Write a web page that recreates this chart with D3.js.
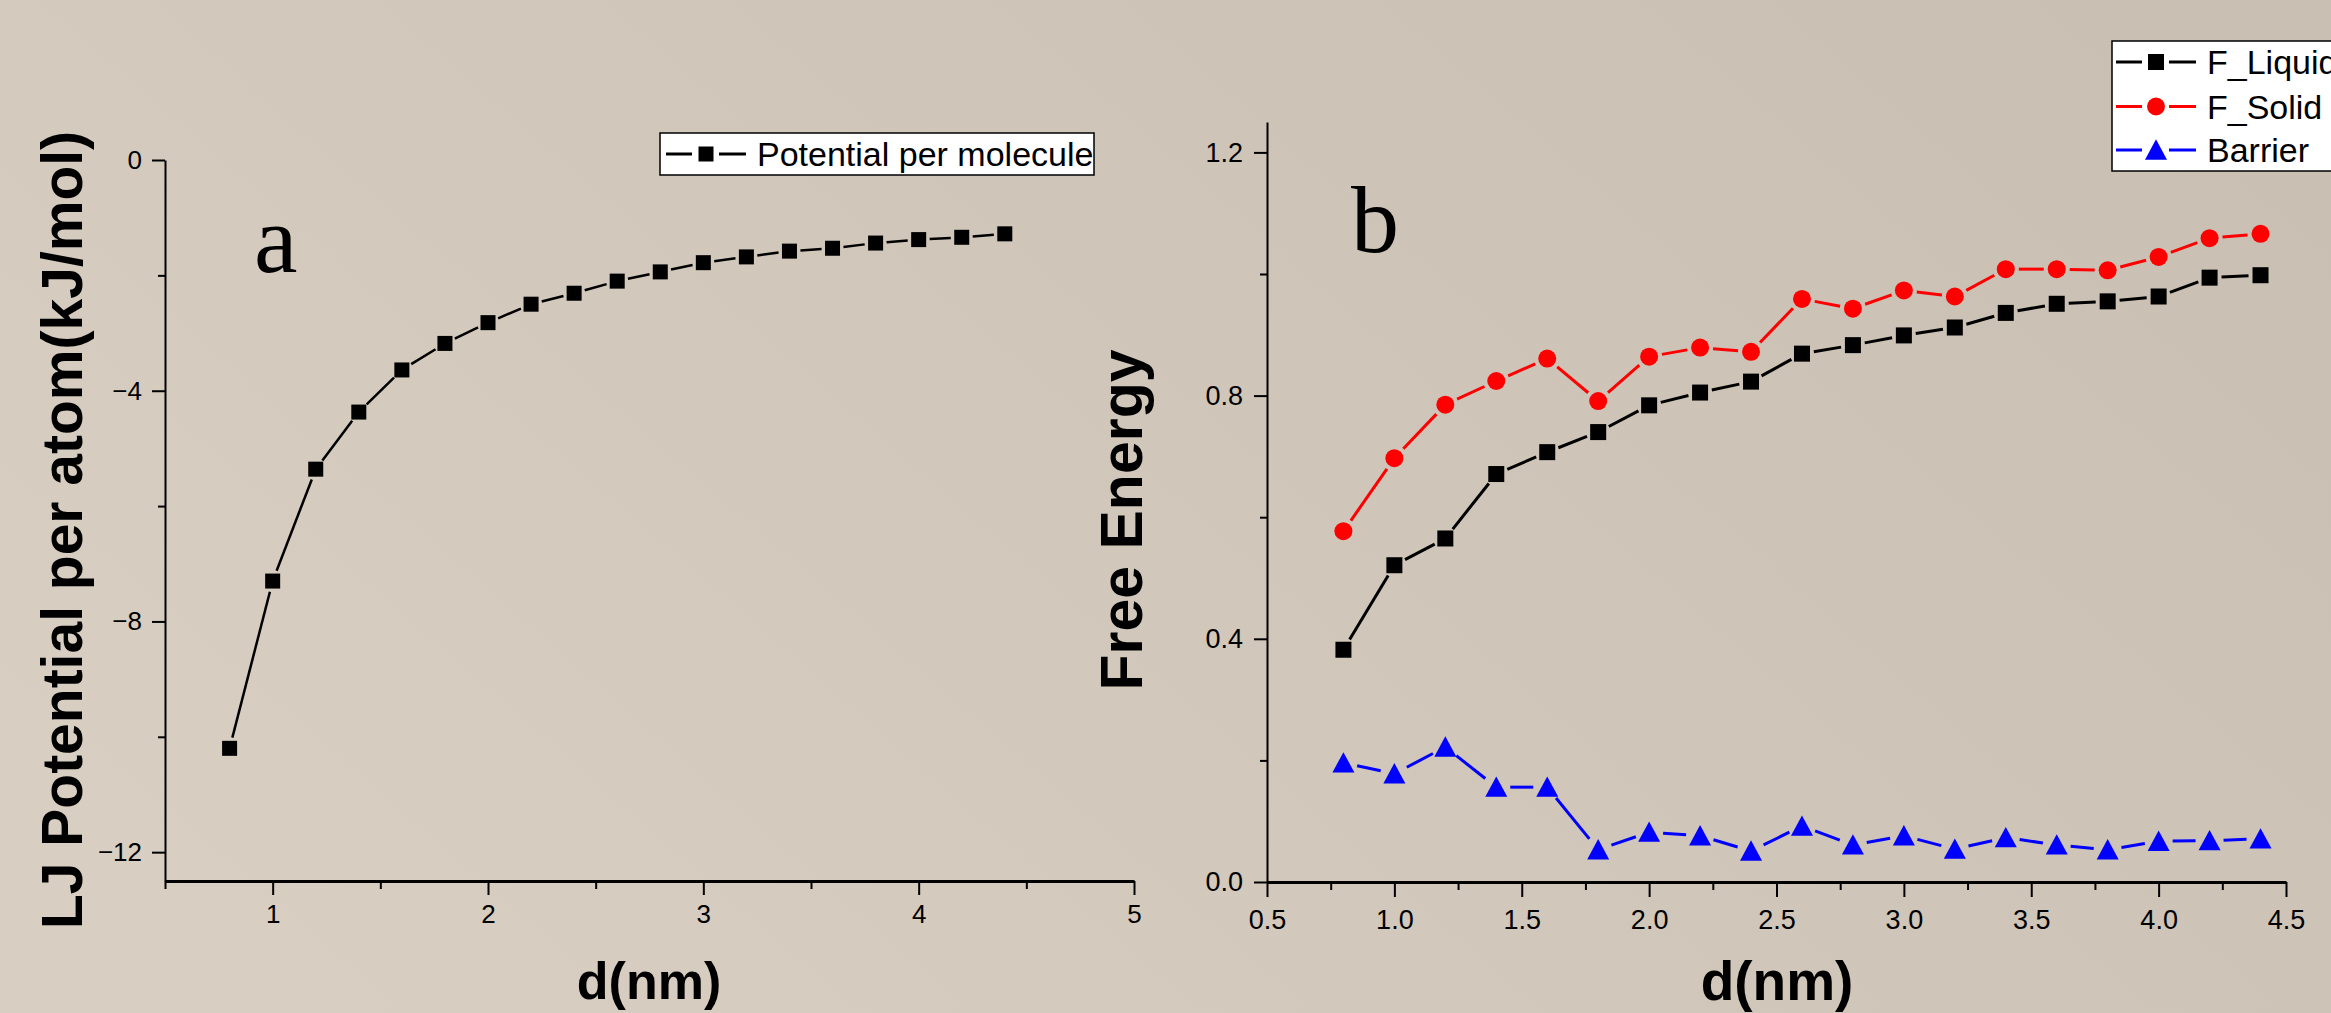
<!DOCTYPE html>
<html>
<head>
<meta charset="utf-8">
<script src="https://cdn.jsdelivr.net/npm/d3@7"></script>
<style>
  body { margin: 0; overflow: hidden; }
  svg { display: block; }
  text { font-family: "Liberation Sans", Arial, sans-serif; fill: #000; }
</style>
</head>
<body>
<div id="chart"></div>
<script>
// panel a: LJ potential per atom vs distance
const distA = [0.8, 1.0, 1.2, 1.4, 1.6, 1.8, 2.0, 2.2, 2.4, 2.6, 2.8, 3.0, 3.2, 3.4, 3.6, 3.8, 4.0, 4.2, 4.4];
const ljPotential = [-10.2, -7.30, -5.36, -4.37, -3.64, -3.18, -2.82, -2.50, -2.31, -2.10, -1.94, -1.78, -1.68, -1.58, -1.53, -1.44, -1.38, -1.34, -1.28];

// panel b: free energies vs distance
const distB = [0.8, 1.0, 1.2, 1.4, 1.6, 1.8, 2.0, 2.2, 2.4, 2.6, 2.8, 3.0, 3.2, 3.4, 3.6, 3.8, 4.0, 4.2, 4.4];
const fLiquid = [0.382, 0.521, 0.565, 0.671, 0.707, 0.740, 0.784, 0.805, 0.823, 0.869, 0.883, 0.899, 0.912, 0.936, 0.951, 0.955, 0.963, 0.994, 0.998];
const fSolid = [0.577, 0.697, 0.785, 0.824, 0.861, 0.791, 0.864, 0.879, 0.872, 0.959, 0.943, 0.973, 0.963, 1.008, 1.008, 1.006, 1.028, 1.059, 1.066];
const barrier = [0.196, 0.178, 0.222, 0.156, 0.156, 0.053, 0.082, 0.076, 0.051, 0.092, 0.061, 0.076, 0.054, 0.073, 0.061, 0.053, 0.067, 0.068, 0.071];

// ticks
const xTicksA = [1, 2, 3, 4, 5];
const xMinorA = [0.5, 1.5, 2.5, 3.5, 4.5];
const yTicksA = [0, -4, -8, -12];
const yMinorA = [-2, -6, -10];
const xTicksB = [0.5, 1.0, 1.5, 2.0, 2.5, 3.0, 3.5, 4.0, 4.5];
const xMinorB = [0.75, 1.25, 1.75, 2.25, 2.75, 3.25, 3.75, 4.25];
const yTicksB = [0, 0.4, 0.8, 1.2];
const yMinorB = [0.2, 0.6, 1.0];

const W = 2331, H = 1013;

const svg = d3.select("#chart").append("svg")
  .attr("width", W)
  .attr("height", H);

// background
const grad = svg.append("defs").append("linearGradient")
  .attr("id", "bg")
  .attr("x1", 0).attr("y1", 0.7)
  .attr("x2", 1).attr("y2", 0.2);
grad.append("stop").attr("offset", 0).attr("stop-color", "#d8cec1");
grad.append("stop").attr("offset", 0.5).attr("stop-color", "#d0c6b9");
grad.append("stop").attr("offset", 1).attr("stop-color", "#c9bfb3");
svg.append("rect").attr("width", W).attr("height", H).attr("fill", "url(#bg)");

// helpers
function gapLines(g, pts, gap, color, width) {
  g.selectAll(null)
    .data(d3.pairs(pts))
    .join("line")
    .each(function ([a, b]) {
      const len = Math.hypot(b[0] - a[0], b[1] - a[1]);
      const ux = (b[0] - a[0]) / len, uy = (b[1] - a[1]) / len;
      const s = Math.min(gap, len / 2);
      d3.select(this)
        .attr("x1", a[0] + ux * s).attr("y1", a[1] + uy * s)
        .attr("x2", b[0] - ux * s).attr("y2", b[1] - uy * s);
    })
    .attr("stroke", color)
    .attr("stroke-width", width);
}

function marker(sel, shape, size, color) {
  if (shape === "square") {
    sel.append("rect")
      .attr("x", -size / 2).attr("y", -size / 2)
      .attr("width", size).attr("height", size)
      .attr("fill", color);
  } else if (shape === "circle") {
    sel.append("circle").attr("r", size / 2).attr("fill", color);
  } else {
    const w = size, h = size * 0.88;
    sel.append("path")
      .attr("d", `M0,${-h / 2 - 1}L${w / 2},${h / 2}L${-w / 2},${h / 2}Z`)
      .attr("fill", color);
  }
}

function drawSeries(g, x, y, xs, ys, opt) {
  const pts = xs.map((d, i) => [x(d), y(ys[i])]);
  gapLines(g, pts, opt.gap, opt.color, opt.width);
  g.selectAll(null)
    .data(pts)
    .join("g")
    .attr("transform", d => `translate(${d[0]},${d[1]})`)
    .each(function () { marker(d3.select(this), opt.shape, opt.size, opt.color); });
}

function styleAxis(ax, width, fontSize) {
  ax.select(".domain").attr("stroke", "#000").attr("stroke-width", width);
  ax.selectAll(".tick line").attr("stroke", "#000").attr("stroke-width", 2);
  ax.selectAll(".tick text")
    .attr("fill", "#000")
    .style("font-size", fontSize + "px")
    .style("font-family", "'Liberation Sans', Arial, sans-serif");
}

function legendRow(g, x0, cy, shape, size, color, label) {
  g.append("line").attr("x1", x0).attr("x2", x0 + 26).attr("y1", cy).attr("y2", cy)
    .attr("stroke", color).attr("stroke-width", 3);
  g.append("line").attr("x1", x0 + 53).attr("x2", x0 + 80).attr("y1", cy).attr("y2", cy)
    .attr("stroke", color).attr("stroke-width", 3);
  const m = g.append("g").attr("transform", `translate(${x0 + 40},${cy})`);
  marker(m, shape, size, color);
  g.append("text")
    .attr("x", x0 + 91)
    .attr("y", cy + 12)
    .style("font-size", "34px")
    .text(label);
}

drawPanelA(svg);
drawPanelB(svg);

function drawPanelA(svg) {
  const x = d3.scaleLinear().domain([0.5, 5]).range([165, 1134]);
  const y = d3.scaleLinear().domain([-12.5, 0]).range([881, 160]);
  const g = svg.append("g");

  // minor ticks
  g.append("g").attr("transform", "translate(0,881)")
    .call(d3.axisBottom(x).tickValues(xMinorA).tickSize(8).tickFormat("").tickSizeOuter(0))
    .call(ax => { ax.select(".domain").remove(); ax.selectAll("line").attr("stroke", "#000").attr("stroke-width", 2); });
  g.append("g").attr("transform", "translate(165,0)")
    .call(d3.axisLeft(y).tickValues(yMinorA).tickSize(7).tickFormat("").tickSizeOuter(0))
    .call(ax => { ax.select(".domain").remove(); ax.selectAll("line").attr("stroke", "#000").attr("stroke-width", 2); });

  // major axes
  g.append("g").attr("transform", "translate(0,881)")
    .call(d3.axisBottom(x).tickValues(xTicksA).tickSize(14).tickPadding(10).tickSizeOuter(0).tickFormat(d3.format("d")))
    .call(ax => styleAxis(ax, 3, 26));
  g.append("g").attr("transform", "translate(165,0)")
    .call(d3.axisLeft(y).tickValues(yTicksA).tickSize(13).tickPadding(10).tickSizeOuter(0).tickFormat(d3.format("d")))
    .call(ax => styleAxis(ax, 2, 26));

  drawSeries(g, x, y, distA, ljPotential, { color: "#000", width: 2.5, shape: "square", size: 15, gap: 11 });

  // axis titles
  g.append("text")
    .attr("transform", "translate(82,530) rotate(-90)")
    .attr("text-anchor", "middle")
    .style("font-size", "57px").style("font-weight", "bold")
    .text("LJ Potential per atom(kJ/mol)");
  g.append("text")
    .attr("x", 649).attr("y", 999)
    .attr("text-anchor", "middle")
    .style("font-size", "52px").style("font-weight", "bold")
    .text("d(nm)");

  // panel label
  g.append("text")
    .attr("x", 254).attr("y", 272)
    .style("font-family", "'Liberation Serif', 'Times New Roman', serif")
    .style("font-size", "98px")
    .text("a");

  // legend
  const lg = g.append("g");
  lg.append("rect").attr("x", 660).attr("y", 133).attr("width", 434).attr("height", 42)
    .attr("fill", "#fff").attr("stroke", "#000").attr("stroke-width", 1.5);
  legendRow(lg, 666, 154, "square", 15, "#000", "Potential per molecule");
}

function drawPanelB(svg) {
  const x = d3.scaleLinear().domain([0.5, 4.5]).range([1267, 2286]);
  const y = d3.scaleLinear().domain([0, 1.25]).range([882, 122]);
  const g = svg.append("g");

  g.append("g").attr("transform", "translate(0,882)")
    .call(d3.axisBottom(x).tickValues(xMinorB).tickSize(8).tickFormat("").tickSizeOuter(0))
    .call(ax => { ax.select(".domain").remove(); ax.selectAll("line").attr("stroke", "#000").attr("stroke-width", 2); });
  g.append("g").attr("transform", "translate(1267,0)")
    .call(d3.axisLeft(y).tickValues(yMinorB).tickSize(7).tickFormat("").tickSizeOuter(0))
    .call(ax => { ax.select(".domain").remove(); ax.selectAll("line").attr("stroke", "#000").attr("stroke-width", 2); });

  g.append("g").attr("transform", "translate(0,882)")
    .call(d3.axisBottom(x).tickValues(xTicksB).tickSize(15).tickPadding(13).tickSizeOuter(0).tickFormat(d3.format(".1f")))
    .call(ax => styleAxis(ax, 3, 27));
  g.append("g").attr("transform", "translate(1267,0)")
    .call(d3.axisLeft(y).tickValues(yTicksB).tickSize(13).tickPadding(11).tickSizeOuter(0).tickFormat(d3.format(".1f")))
    .call(ax => styleAxis(ax, 2, 27));

  drawSeries(g, x, y, distB, fLiquid, { color: "#000", width: 3, shape: "square", size: 16, gap: 12 });
  drawSeries(g, x, y, distB, fSolid, { color: "#ff0000", width: 3, shape: "circle", size: 18, gap: 13 });
  drawSeries(g, x, y, distB, barrier, { color: "#0000ff", width: 3, shape: "triangle", size: 22, gap: 14 });

  g.append("text")
    .attr("transform", "translate(1142,520) rotate(-90)")
    .attr("text-anchor", "middle")
    .style("font-size", "59px").style("font-weight", "bold")
    .text("Free Energy");
  g.append("text")
    .attr("x", 1777).attr("y", 1000)
    .attr("text-anchor", "middle")
    .style("font-size", "55px").style("font-weight", "bold")
    .text("d(nm)");

  g.append("text")
    .attr("x", 1351).attr("y", 252)
    .style("font-family", "'Liberation Serif', 'Times New Roman', serif")
    .style("font-size", "96px")
    .text("b");

  // legend box runs off the right edge, as in the original
  const lg = g.append("g");
  lg.append("rect").attr("x", 2112).attr("y", 41).attr("width", 300).attr("height", 130)
    .attr("fill", "#fff").attr("stroke", "#000").attr("stroke-width", 1.5);
  legendRow(lg, 2116, 62, "square", 16, "#000", "F_Liquid");
  legendRow(lg, 2116, 106.5, "circle", 18, "#ff0000", "F_Solid");
  legendRow(lg, 2116, 150, "triangle", 22, "#0000ff", "Barrier");
}
</script>
</body>
</html>
